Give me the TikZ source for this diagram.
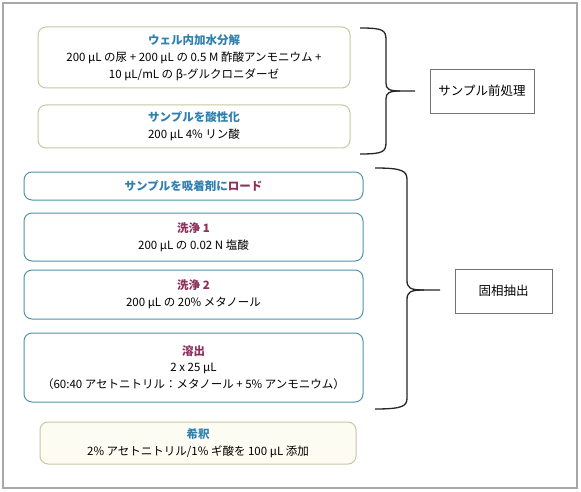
\documentclass[tikz,border=0pt]{standalone}
\usepackage{fontspec}
\setmainfont{Noto Sans CJK JP}
\definecolor{olive}{HTML}{C8C8A0}
\definecolor{teal}{HTML}{4F93AC}
\definecolor{ttlblue}{HTML}{2F80B0}
\definecolor{ttlred}{HTML}{8E2F5C}
\definecolor{paleyel}{HTML}{FCFCF2}
\definecolor{frame}{HTML}{A8A8A8}
\tikzset{
  x=1pt, y=-1pt,
  stepbox/.style={rounded corners=8pt, line width=1pt, align=center, inner sep=0pt,
    font=\fontsize{11.5}{16.8}\selectfont},
  olivebox/.style={stepbox, draw=olive, fill=white},
  tealbox/.style={stepbox, draw=teal, fill=white},
  labelbox/.style={draw=black!55, line width=0.8pt, fill=white, inner sep=0pt,
    font=\fontsize{12.5}{15}\selectfont},
  bracepath/.style={line width=1.3pt, black!85},
}
\newcommand{\tb}[1]{\textcolor{ttlblue}{\bfseries #1}}
\newcommand{\tr}[1]{\textcolor{ttlred}{\bfseries #1}}
\begin{document}
\begin{tikzpicture}
\useasboundingbox (0,0) rectangle (581,492);
\fill[white] (0,0) rectangle (581,492);
\draw[frame, line width=1.2pt] (3,3) rectangle (577,488);

\node[olivebox, minimum width=312pt, minimum height=61pt] (hyd) at (194,57.5)
  {\tb{ウェル内加水分解}\\200 µL の尿 + 200 µL の 0.5 M 酢酸アンモニウム +\\10 µL/mL の β-グルクロニダーゼ};
\node[olivebox, minimum width=312pt, minimum height=43pt] (acid) at (194,126.5)
  {\tb{サンプルを酸性化}\\200 µL 4\% リン酸};

\node[tealbox, minimum width=339pt, minimum height=28pt] (load) at (193.5,186)
  {\tb{サンプルを吸着剤に}\tr{ロード}};
\node[tealbox, minimum width=339pt, minimum height=48pt] (w1) at (193.5,237)
  {\tr{洗浄 1}\\200 µL の 0.02 N 塩酸};
\node[tealbox, minimum width=339pt, minimum height=49pt] (w2) at (193.5,294.5)
  {\tr{洗浄 2}\\200 µL の 20\% メタノール};
\node[tealbox, minimum width=339pt, minimum height=69pt] (elu) at (193.5,367.5)
  {\tr{溶出}\\2 x 25 µL\\（60:40 アセトニトリル：メタノール + 5\% アンモニウム）};

\node[olivebox, fill=paleyel, minimum width=316pt, minimum height=42pt] (dil) at (198,443)
  {\tb{希釈}\\2\% アセトニトリル/1\% ギ酸を 100 µL 添加};

\node[labelbox, minimum width=104pt, minimum height=44pt] (pre) at (482,91) {サンプル前処理};
\node[labelbox, minimum width=97pt, minimum height=44pt] (spe) at (503.5,291) {固相抽出};

% brace 1
\coordinate (b1tip) at (415,91);
\draw[bracepath] (360,28) .. controls (383,28) and (386,30) .. (386,40) -- (386,83)
  .. controls (386,89) and (389,91) .. (400,91) -- (b1tip);
\draw[bracepath] (400,91) .. controls (389,91) and (386,93) .. (386,99) -- (386,142)
  .. controls (386,152) and (383,154) .. (360,154);
% brace 2
\coordinate (b2tip) at (440,290);
\draw[bracepath] (375,168) .. controls (403,168) and (407,171) .. (407,180) -- (407,280)
  .. controls (407,288) and (410,290) .. (424,290) -- (b2tip);
\draw[bracepath] (424,290) .. controls (410,290) and (407,292) .. (407,300) -- (407,398)
  .. controls (407,406) and (403,409) .. (375,409);
\end{tikzpicture}
\end{document}
